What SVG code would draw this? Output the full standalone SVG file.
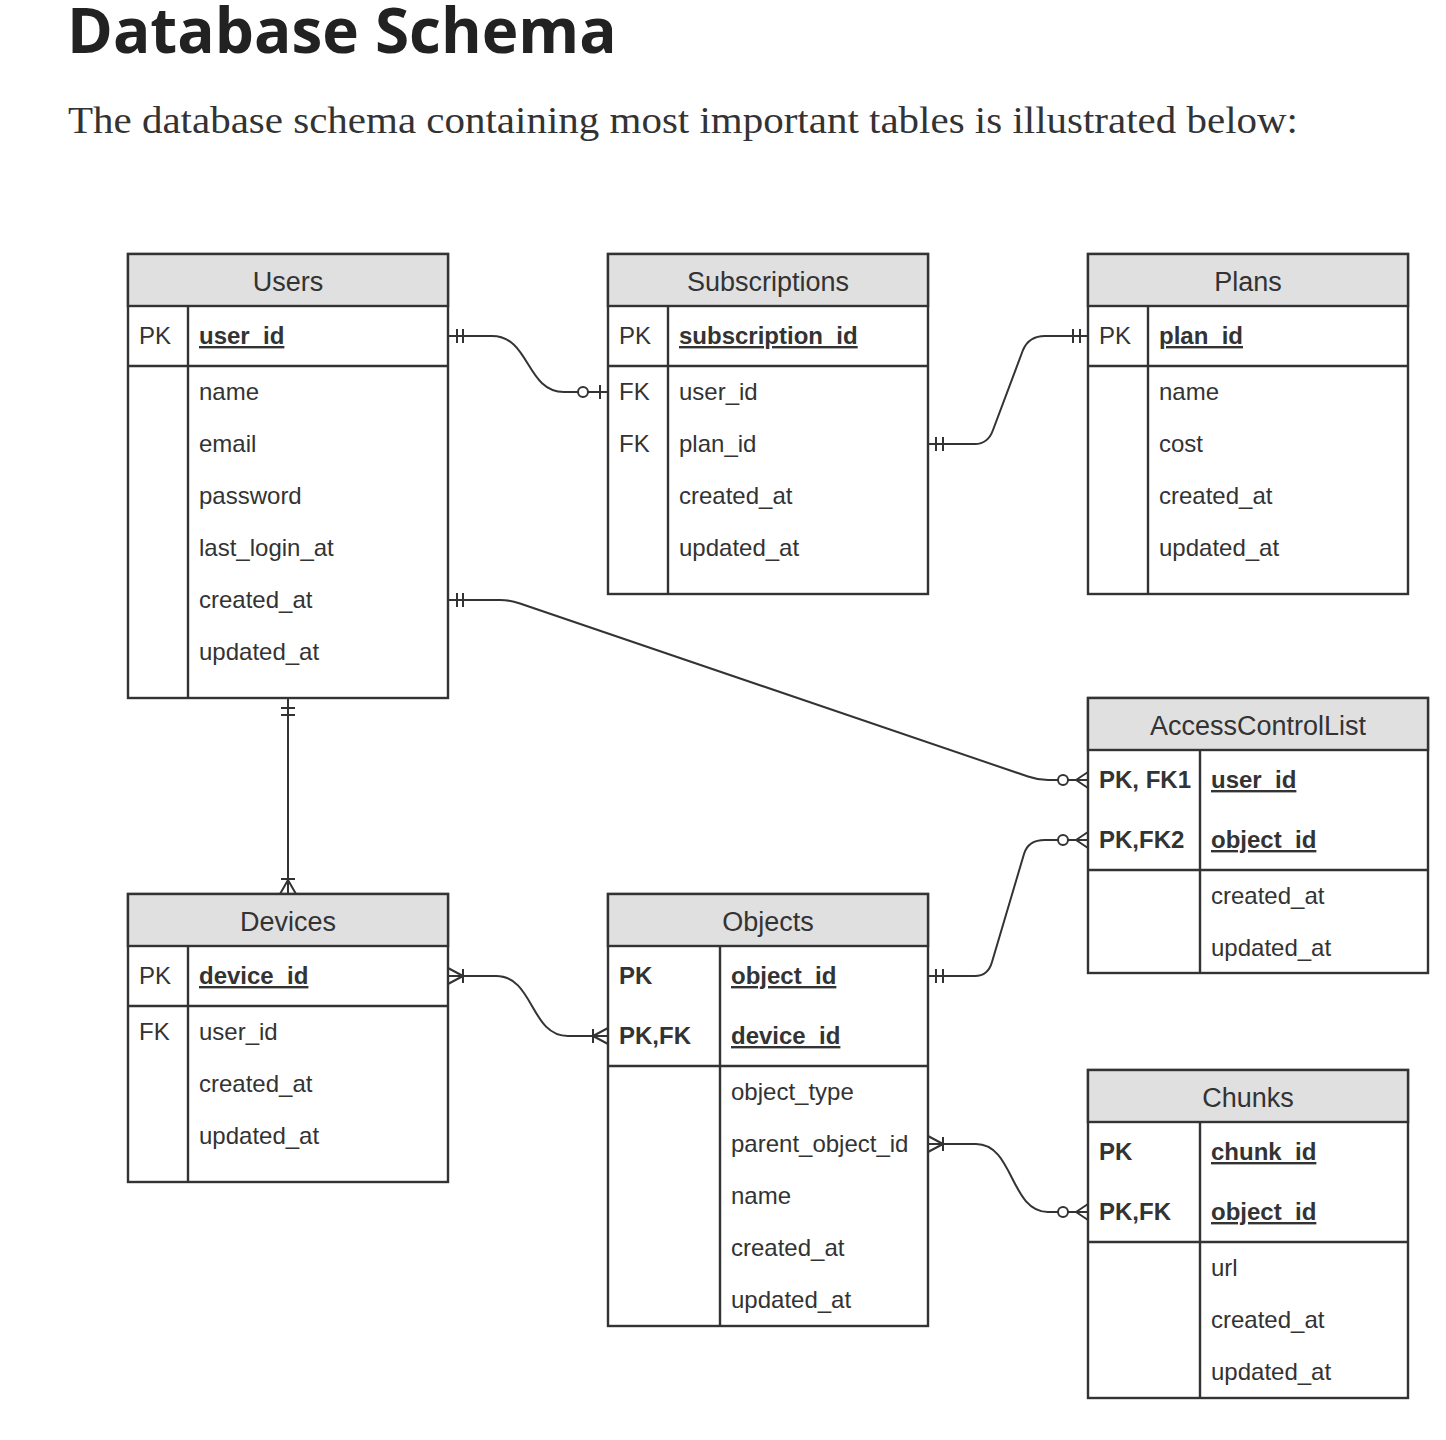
<svg xmlns="http://www.w3.org/2000/svg" width="1446" height="1440" viewBox="0 0 1446 1440">
<style>
.title{font-family:"Open Sans","Liberation Sans",sans-serif;font-weight:700;font-size:62px;fill:#222}
.sub{font-family:"Liberation Serif","DejaVu Serif",serif;font-size:38px;fill:#333}
.box{fill:#fff;stroke:#333;stroke-width:2.4}
.hdr{fill:#e0e0e0;stroke:#333;stroke-width:2.4}
.ln{stroke:#333;stroke-width:2.4;fill:none}
.h{font-family:"Liberation Sans",Arial,sans-serif;font-size:27px;fill:#333;text-anchor:middle}
.t{font-family:"Liberation Sans",Arial,sans-serif;font-size:24px;fill:#333}
.b{font-weight:700}
.u{font-weight:700;text-decoration:underline}
.c{stroke:#333;stroke-width:2;fill:none}
.o{stroke:#333;stroke-width:2;fill:#fff}
</style>
<rect width="1446" height="1440" fill="#fff"/>
<text class="title" x="67" y="53">Database Schema</text>
<text class="sub" x="68" y="133" textLength="1230" lengthAdjust="spacingAndGlyphs">The database schema containing most important tables is illustrated below:</text>

<g id="users">
<rect class="box" x="128" y="254" width="320" height="444"/>
<rect class="hdr" x="128" y="254" width="320" height="52"/>
<path class="ln" d="M128,366H448M188,306V698"/>
<text class="h" x="288" y="291">Users</text>
<text class="t" x="139" y="344">PK</text>
<text class="t u" x="199" y="344">user_id</text>
<text class="t" x="199" y="400">name</text>
<text class="t" x="199" y="452">email</text>
<text class="t" x="199" y="504">password</text>
<text class="t" x="199" y="556">last_login_at</text>
<text class="t" x="199" y="608">created_at</text>
<text class="t" x="199" y="660">updated_at</text>
</g>

<g id="subscriptions">
<rect class="box" x="608" y="254" width="320" height="340"/>
<rect class="hdr" x="608" y="254" width="320" height="52"/>
<path class="ln" d="M608,366H928M668,306V594"/>
<text class="h" x="768" y="291">Subscriptions</text>
<text class="t" x="619" y="344">PK</text>
<text class="t u" x="679" y="344">subscription_id</text>
<text class="t" x="619" y="400">FK</text>
<text class="t" x="679" y="400">user_id</text>
<text class="t" x="619" y="452">FK</text>
<text class="t" x="679" y="452">plan_id</text>
<text class="t" x="679" y="504">created_at</text>
<text class="t" x="679" y="556">updated_at</text>
</g>

<g id="plans">
<rect class="box" x="1088" y="254" width="320" height="340"/>
<rect class="hdr" x="1088" y="254" width="320" height="52"/>
<path class="ln" d="M1088,366H1408M1148,306V594"/>
<text class="h" x="1248" y="291">Plans</text>
<text class="t" x="1099" y="344">PK</text>
<text class="t u" x="1159" y="344">plan_id</text>
<text class="t" x="1159" y="400">name</text>
<text class="t" x="1159" y="452">cost</text>
<text class="t" x="1159" y="504">created_at</text>
<text class="t" x="1159" y="556">updated_at</text>
</g>

<g id="acl">
<rect class="box" x="1088" y="698" width="340" height="275"/>
<rect class="hdr" x="1088" y="698" width="340" height="52"/>
<path class="ln" d="M1088,870H1428M1200,750V973"/>
<text class="h" x="1258" y="735">AccessControlList</text>
<text class="t b" x="1099" y="788">PK, FK1</text>
<text class="t u" x="1211" y="788">user_id</text>
<text class="t b" x="1099" y="848">PK,FK2</text>
<text class="t u" x="1211" y="848">object_id</text>
<text class="t" x="1211" y="904">created_at</text>
<text class="t" x="1211" y="956">updated_at</text>
</g>

<g id="devices">
<rect class="box" x="128" y="894" width="320" height="288"/>
<rect class="hdr" x="128" y="894" width="320" height="52"/>
<path class="ln" d="M128,1006H448M188,946V1182"/>
<text class="h" x="288" y="931">Devices</text>
<text class="t" x="139" y="984">PK</text>
<text class="t u" x="199" y="984">device_id</text>
<text class="t" x="139" y="1040">FK</text>
<text class="t" x="199" y="1040">user_id</text>
<text class="t" x="199" y="1092">created_at</text>
<text class="t" x="199" y="1144">updated_at</text>
</g>

<g id="objects">
<rect class="box" x="608" y="894" width="320" height="432"/>
<rect class="hdr" x="608" y="894" width="320" height="52"/>
<path class="ln" d="M608,1066H928M720,946V1326"/>
<text class="h" x="768" y="931">Objects</text>
<text class="t b" x="619" y="984">PK</text>
<text class="t u" x="731" y="984">object_id</text>
<text class="t b" x="619" y="1044">PK,FK</text>
<text class="t u" x="731" y="1044">device_id</text>
<text class="t" x="731" y="1100">object_type</text>
<text class="t" x="731" y="1152">parent_object_id</text>
<text class="t" x="731" y="1204">name</text>
<text class="t" x="731" y="1256">created_at</text>
<text class="t" x="731" y="1308">updated_at</text>
</g>

<g id="chunks">
<rect class="box" x="1088" y="1070" width="320" height="328"/>
<rect class="hdr" x="1088" y="1070" width="320" height="52"/>
<path class="ln" d="M1088,1242H1408M1200,1122V1398"/>
<text class="h" x="1248" y="1107">Chunks</text>
<text class="t b" x="1099" y="1160">PK</text>
<text class="t u" x="1211" y="1160">chunk_id</text>
<text class="t b" x="1099" y="1220">PK,FK</text>
<text class="t u" x="1211" y="1220">object_id</text>
<text class="t" x="1211" y="1276">url</text>
<text class="t" x="1211" y="1328">created_at</text>
<text class="t" x="1211" y="1380">updated_at</text>
</g>

<g id="connectors">
<!-- users - subscriptions -->
<path class="c" d="M448,336H492C530,336 526,392 564,392H578M588,392H608M457,329V343M463,329V343M600,385V399"/>
<circle class="o" cx="583" cy="392" r="5"/>
<!-- subscriptions - plans -->
<path class="c" d="M928,444H975Q988,444 993,430L1023,350Q1029,336 1045,336H1088M936,437V451M943,437V451M1073,329V343M1080,329V343"/>
<!-- users - acl -->
<path class="c" d="M448,600H500Q510,600 520,603.5L1028,776.5Q1038,780 1048,780H1058M1068,780H1088M1076,780L1088,772M1076,780L1088,788M457,593V607M463,593V607"/>
<circle class="o" cx="1063" cy="780" r="5"/>
<!-- users - devices -->
<path class="c" d="M288,698V894M281,708H295M281,715H295M281,879H295M288,880L280,894M288,880L296,894"/>
<!-- devices - objects -->
<path class="c" d="M448,976H496C534,976 530,1036 568,1036H608M463,969V983M463,976L448,968M463,976L448,984M593,1029V1043M593,1036L608,1028M593,1036L608,1044"/>
<!-- objects - acl -->
<path class="c" d="M928,976H975Q988,976 992,962L1024,854Q1028,840 1045,840H1058M1068,840H1088M1076,840L1088,832M1076,840L1088,848M936,969V983M943,969V983"/>
<circle class="o" cx="1063" cy="840" r="5"/>
<!-- objects - chunks -->
<path class="c" d="M928,1144H976C1014,1144 1010,1212 1048,1212H1058M1068,1212H1088M1076,1212L1088,1204M1076,1212L1088,1220M943,1137V1151M943,1144L928,1136M943,1144L928,1152"/>
<circle class="o" cx="1063" cy="1212" r="5"/>
</g>
</svg>
